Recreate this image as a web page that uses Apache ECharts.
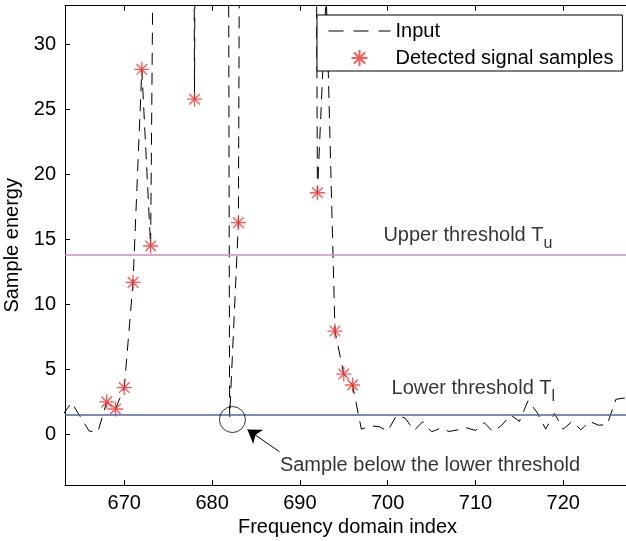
<!DOCTYPE html>
<html>
<head>
<meta charset="utf-8">
<script src="https://cdn.jsdelivr.net/npm/echarts@6/dist/echarts.min.js"></script>
<style>
  html, body { margin: 0; padding: 0; background: #fff; }
  #chart { width: 626px; height: 541px; }
</style>
</head>
<body>
<div id="chart"></div>
<script>
// ---- data ----
const frequencyIndex = [663,664,665,666,667,668,669,670,671,672,673,674,675,676,677,678,679,680,681,682,
  683,684,685,686,687,688,689,690,691,692,693,694,695,696,697,698,699,700,701,702,
  703,704,705,706,707,708,709,710,711,712,713,714,715,716,717,718,719,720,721,722,
  723,724,725,726,727];
const inputEnergy = [1.5,2.45,1.35,0.25,0.2,2.5,1.95,3.6,11.7,28.1,14.5,95,180,240,250,25.8,240,280,300,1.35,
  16.3,200,260,300,320,310,280,230,180,18.6,34,7.95,4.64,3.8,0.4,0.65,0.6,0.25,1.45,1.25,
  0.3,0.97,0.2,0.46,0.22,0.35,0.5,0.3,0.9,0.2,0.7,1.5,1.0,2.6,1.7,0.4,1.6,0.4,1.0,0.35,
  1.0,0.7,0.75,2.7,2.8];
const detectedIndex = [668,669,670,671,672,673,678,683,692,694,695,696];
const detectedEnergy = [2.5,1.95,3.6,11.7,28.1,14.5,25.8,16.3,18.6,7.95,4.64,3.8];
const upperThreshold = 13.85;
const lowerThreshold = 1.48;
const xTicks = [670,680,690,700,710,720];
const yTicks = [0,5,10,15,20,25,30];

// annotation anchors (data coordinates)
const belowSample = [682.32, 1.14];
const arrowFrom = [687.68, -1.34];
const arrowTo = [684.03, 0.37];
const upperLabelAt = [699.46, 15.3];
const lowerLabelAt = [700.38, 3.55];
const sampleLabelAt = [687.67, -2.4];

const FONT = "'Liberation Sans', Arial, Helvetica, sans-serif";
const starPath = 'path://M8,0L8,16M0,8L16,8M2.34,2.34L13.66,13.66M2.34,13.66L13.66,2.34';

const inputData = frequencyIndex.map((x, i) => [x, inputEnergy[i]]);
const detectedData = detectedIndex.map((x, i) => [x, detectedEnergy[i]]);

const chart = echarts.init(document.getElementById('chart'), null, { renderer: 'canvas' });
const xAxisBase = {
  type: 'value', min: 663.25, max: 727.6,
  splitLine: { show: false },
  axisLine: { show: true, onZero: false, lineStyle: { color: '#000', width: 1 } },
  axisTick: { show: true, inside: true, length: 5, customValues: xTicks, lineStyle: { color: '#000' } },
};
const option = {
  backgroundColor: '#fff',
  animation: false,
  textStyle: { fontFamily: FONT },
  grid: { left: 65, right: -4, top: 5.7, bottom: 56, containLabel: false, outerBoundsMode: 'none' },
  xAxis: [
    Object.assign({}, xAxisBase, {
      position: 'bottom',
      name: 'Frequency domain index', nameLocation: 'middle', nameGap: 28,
      nameTextStyle: { fontSize: 20, color: '#000', fontFamily: FONT },
      axisLabel: { show: true, customValues: xTicks, fontSize: 20, color: '#000', margin: 8, fontFamily: FONT }
    }),
    Object.assign({}, xAxisBase, {
      position: 'top',
      axisLabel: { show: false }
    })
  ],
  yAxis: {
    type: 'value', min: -3.9, max: 33,
    splitLine: { show: false },
    axisLine: { show: true, onZero: false, lineStyle: { color: '#000', width: 1 } },
    axisTick: { show: true, inside: true, length: 5, customValues: yTicks, lineStyle: { color: '#000' } },
    axisLabel: { show: true, customValues: yTicks, fontSize: 20, color: '#000', margin: 9, fontFamily: FONT },
    name: 'Sample energy', nameLocation: 'middle', nameGap: 37,
    nameTextStyle: { fontSize: 20, color: '#000', fontFamily: FONT }
  },
  legend: {
    data: [
      { name: 'Input', itemStyle: { opacity: 0 } },
      { name: 'Detected signal samples' }
    ],
    orient: 'vertical', left: 317, top: 15,
    padding: [6, 9, 3, 11], itemGap: 7,
    itemWidth: 62, itemHeight: 16,
    borderColor: '#000', borderWidth: 1, borderRadius: 0,
    backgroundColor: '#fff',
    selectedMode: false,
    textStyle: { fontSize: 20, color: '#000', fontFamily: FONT },
    lineStyle: { type: [15, 10], width: 1 }
  },
  series: [
    {
      name: 'Input', type: 'line', data: inputData, symbol: 'none', showSymbol: false, clip: true,
      lineStyle: { color: '#000', width: 1, type: [12, 8] },
      itemStyle: { color: '#000' },
      markLine: {
        silent: true, symbol: ['none', 'none'], animation: false,
        label: { show: false },
        data: [
          { yAxis: upperThreshold, lineStyle: { color: '#d08cc8', width: 1.5, type: 'solid' } },
          { yAxis: lowerThreshold, lineStyle: { color: '#5062ae', width: 1.5, type: 'solid' } }
        ]
      },
      z: 3
    },
    {
      name: 'Detected signal samples', type: 'scatter', data: detectedData, clip: true,
      symbol: starPath, symbolSize: 15,
      itemStyle: { color: 'rgba(0,0,0,0)', borderColor: '#ff2a2a', borderWidth: 1.3 },
      z: 4
    },
    {
      name: 'annotCircle', type: 'scatter', silent: true, data: [belowSample],
      symbol: 'circle', symbolSize: 26,
      itemStyle: { color: 'rgba(0,0,0,0)', borderColor: '#000', borderWidth: 1 },
      z: 5,
      markLine: {
        silent: true, animation: false,
        symbol: ['none', 'arrow'], symbolSize: 13,
        label: { show: false },
        lineStyle: { color: '#000', width: 1, type: 'solid' },
        data: [[{ coord: arrowFrom }, { coord: arrowTo }]]
      }
    },
    {
      name: 'annotText', type: 'scatter', silent: true, symbolSize: 1,
      itemStyle: { color: 'rgba(0,0,0,0)' },
      label: {
        show: true, position: 'right', distance: 0, color: '#000', fontFamily: FONT, fontSize: 20,
        rich: {
          m: { fontSize: 20, lineHeight: 20, verticalAlign: 'top', color: '#000', fontFamily: FONT },
          s: { fontSize: 16, lineHeight: 16, padding: [10, 0, 0, 0], verticalAlign: 'top', color: '#000', fontFamily: FONT }
        }
      },
      data: [
        { value: upperLabelAt, label: { formatter: '{m|Upper threshold T}{s|u}' } },
        { value: lowerLabelAt, label: { formatter: '{m|Lower threshold T}{s|l}' } },
        { value: sampleLabelAt, label: { formatter: 'Sample below the lower threshold' } }
      ],
      z: 5
    }
  ]
};
chart.setOption(option);
</script>
</body>
</html>
